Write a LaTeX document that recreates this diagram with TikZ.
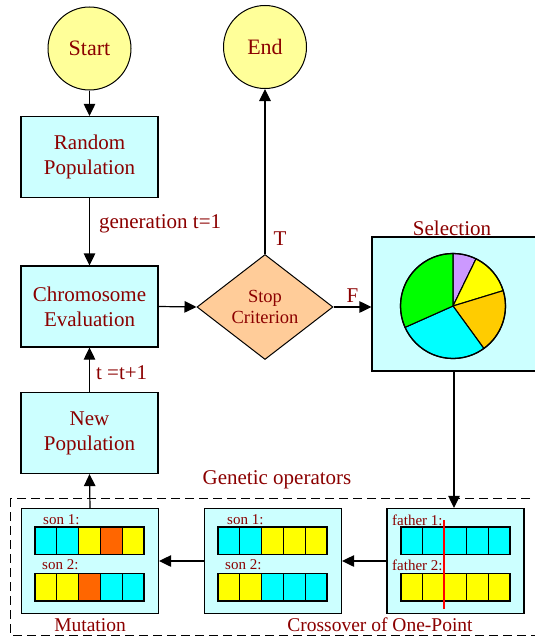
\documentclass[tikz,border=0pt]{standalone}
\usepackage{fontspec}
\setmainfont{Liberation Serif}
\usetikzlibrary{arrows.meta,shapes.geometric}
\definecolor{boxfill}{HTML}{CCFFFF}
\definecolor{circfill}{HTML}{FFFF99}
\definecolor{diafill}{HTML}{FFCC99}
\definecolor{txt}{HTML}{8B0000}
\definecolor{gcyan}{HTML}{00FFFF}
\definecolor{gyellow}{HTML}{FFFF00}
\definecolor{gorange}{HTML}{FF6600}
\definecolor{pgold}{HTML}{FFCC00}
\definecolor{ppurple}{HTML}{CC99FF}
\definecolor{pgreen}{HTML}{00FF00}
\newcommand\generow[3]{%
  \foreach \cc [count=\ii from 0] in {#3}
    \filldraw[fill=\cc, line width=1.1pt] (#1+\ii*21.8,#2) rectangle ++(21.8,27.5);
}
\newcommand\pieslice[3]{%
  \filldraw[fill=#1, line width=1.1pt] (pc) -- ++(#2:52.5) arc[start angle=#2,end angle=#3,radius=52.5] -- cycle;
}
\begin{document}
\begin{tikzpicture}[x=1pt,y=-1pt,
  proc/.style={draw, line width=1.2pt, fill=boxfill, minimum width=137pt, minimum height=81pt,
    align=center, text=txt, font=\fontsize{21}{25}\selectfont, inner sep=0pt},
  term/.style={circle, draw, line width=1pt, fill=circfill, minimum size=83pt,
    text=txt, font=\fontsize{22}{25}\selectfont, inner sep=0pt},
  opbox/.style={draw, line width=1.2pt, fill=boxfill, minimum width=137pt, minimum height=105pt, inner sep=0pt},
  flow/.style={line width=1.2pt, -{Triangle[length=12pt,width=11.5pt]}},
  lbl/.style={text=txt, font=\fontsize{21}{25}\selectfont, inner sep=0pt},
  small/.style={text=txt, font=\fontsize{15}{17}\selectfont, inner sep=0pt, anchor=west},
  oplbl/.style={text=txt, font=\fontsize{19.5}{22}\selectfont, inner sep=0pt}]
\useasboundingbox (0,0) rectangle (535,637);
\clip (0,0) rectangle (535,637);

% terminals
\node[term] (start) at (89.5,48.5) {Start};
\node[term] (end) at (265,47) {End};

% process boxes
\node[proc] (rand) at (89.5,157) {Random\\Population};
\node[proc] (chrom) at (89.5,306.5) {Chromosome\\Evaluation};
\node[proc] (newpop) at (89.5,433) {New\\Population};

% decision
\node[diamond, draw, line width=1pt, fill=diafill, aspect=1.3, minimum width=136pt, minimum height=105pt,
  inner sep=0pt, align=center, text=txt, font=\fontsize{18.5}{21.5}\selectfont] (dia) at (265,307) {Stop\\Criterion};

% selection box
\node[draw, line width=1.2pt, fill=boxfill, minimum width=178pt, minimum height=134pt, inner sep=0pt] (sel) at (461,304) {};
\node[lbl] (seltxt) at (452,228) {Selection};
\coordinate (pc) at (453,306);
% y axis is flipped: angles are negated
\pieslice{ppurple}{-90}{-64}
\pieslice{gyellow}{-64}{-17}
\pieslice{pgold}{-17}{54}
\pieslice{gcyan}{54}{156}
\pieslice{pgreen}{156}{270}
\draw[line width=1.3pt] (pc) circle[radius=52.5];

% genetic operators
\node[lbl] (gentxt) at (277,480) {Genetic operators};
\draw[dashed, dash pattern=on 9pt off 5pt, line width=1pt] (10,498) rectangle (560,635);

\node[opbox] (mut) at (90,561) {};
\node[opbox] (cross) at (273,561) {};
\node[opbox] (father) at (455.5,561) {};

\node[small] (m1) at (43,520) {son 1:};
\node[small] (m2) at (42,565) {son 2:};
\generow{35}{527}{gcyan,gcyan,gyellow,gorange,gyellow}
\generow{35}{573.5}{gyellow,gyellow,gorange,gcyan,gcyan}

\node[small] (c1) at (227,520) {son 1:};
\node[small] (c2) at (225,565) {son 2:};
\generow{218}{527}{gcyan,gcyan,gyellow,gyellow,gyellow}
\generow{218}{573.5}{gyellow,gyellow,gcyan,gcyan,gcyan}

\node[small] (f1) at (392,520) {father 1:};
\node[small] (f2) at (392,565) {father 2:};
\generow{401}{527}{gcyan,gcyan,gcyan,gcyan,gcyan}
\generow{401}{573.5}{gyellow,gyellow,gyellow,gyellow,gyellow}
\draw[red, line width=1.6pt] (444,520) -- (444,609);

\node[oplbl] (mutlbl) at (90,625) {Mutation};
\node[oplbl] (crosslbl) at (380,625) {Crossover of One-Point};

% connectors
\draw[flow] (start) -- (rand);
\draw[flow] (rand) -- node[lbl, anchor=west, xshift=9pt, yshift=8pt] (gen) {generation t=1} (chrom);
\draw[flow] (chrom.east) -- (dia.west);
\draw[flow] (dia.east) -- node[lbl, anchor=south, yshift=4pt] (flbl) {F} (dia.east -| sel.west);
\draw[flow] (dia.north) -- (end.south);
\node[lbl] (tlbl) at (280,239) {T};
\draw[flow] (newpop) -- node[lbl, anchor=west, xshift=6pt, yshift=-3pt] (tinc) {t =t+1} (chrom);
\draw[flow] (mut.north) -- (newpop.south);
\draw[flow] (454,371) -- (father.north -| 454,0);
\draw[flow] (father.west) -- (cross.east);
\draw[flow] (cross.west) -- (mut.east);
\end{tikzpicture}
\end{document}
